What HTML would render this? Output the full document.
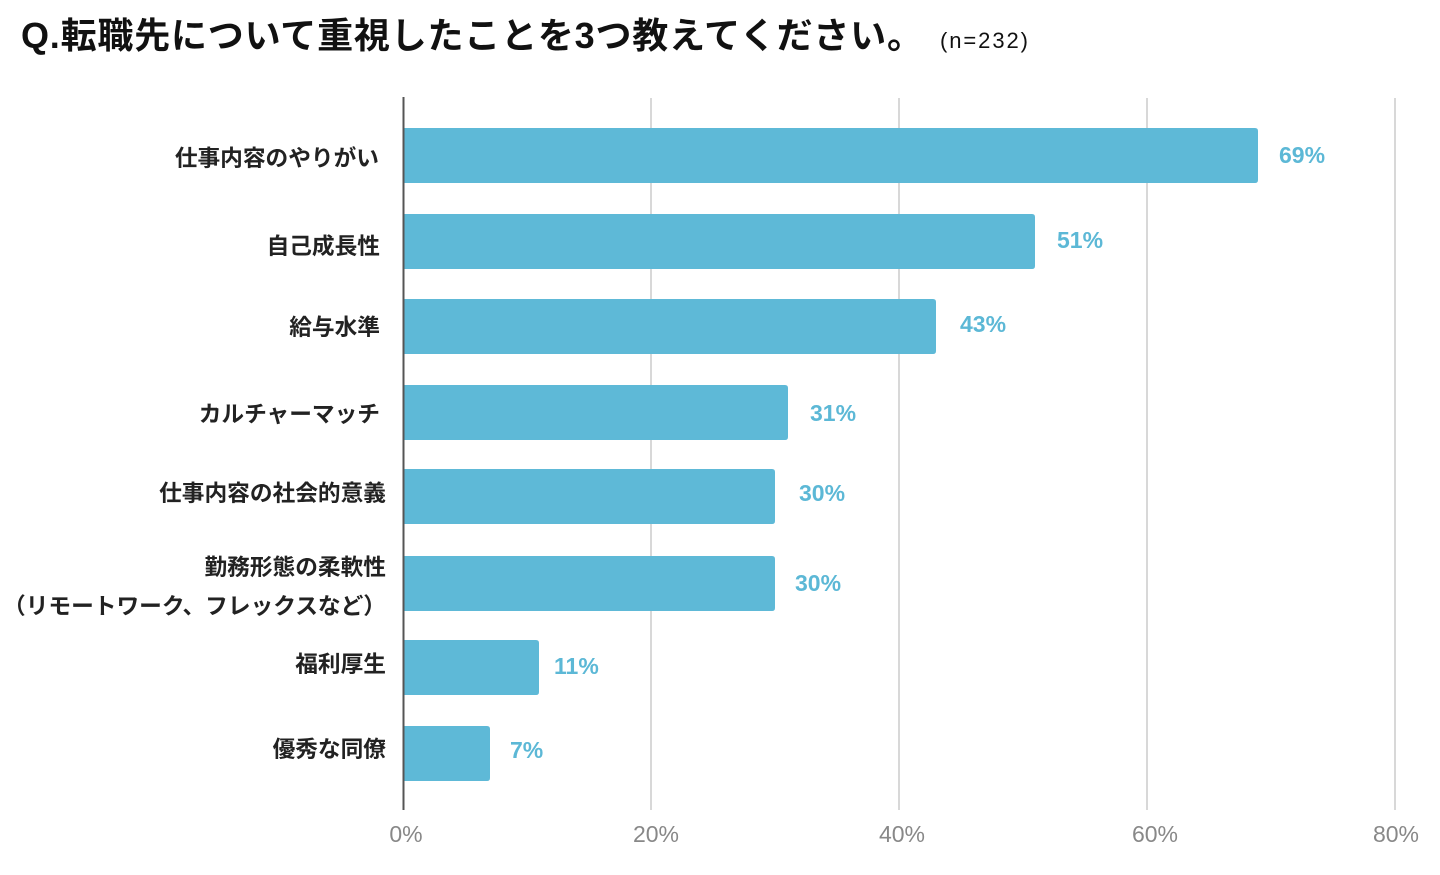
<!DOCTYPE html>
<html>
<head>
<meta charset="utf-8">
<style>
  html,body{margin:0;padding:0;background:#fff;}
  body{width:1440px;height:875px;overflow:hidden;}
  svg{display:block;}
  .t{font-family:"Liberation Sans","Noto Sans CJK JP",sans-serif;}
</style>
</head>
<body>
<svg width="1440" height="875" viewBox="0 0 1440 875" xmlns="http://www.w3.org/2000/svg">
  <rect width="1440" height="875" fill="#ffffff"/>

  <!-- Title -->
  <text class="t" x="21" y="48" font-size="36" font-weight="600" fill="#111" textLength="902" lengthAdjust="spacing">Q.転職先について重視したことを3つ教えてください。</text>
  <text class="t" x="940" y="48" font-size="22" fill="#111" textLength="88" lengthAdjust="spacing">(n=232)</text>

  <!-- Gridlines -->
  <g stroke="#d8d8d8" stroke-width="2">
    <line x1="651" y1="98" x2="651" y2="810"/>
    <line x1="899" y1="98" x2="899" y2="810"/>
    <line x1="1147" y1="98" x2="1147" y2="810"/>
    <line x1="1395" y1="98" x2="1395" y2="810"/>
  </g>

  <!-- Bars -->
  <g fill="#5eb9d7">
    <path d="M404 128 H1255 Q1258 128 1258 131 V180 Q1258 183 1255 183 H404 Z"/>
    <path d="M404 214 H1032 Q1035 214 1035 217 V266 Q1035 269 1032 269 H404 Z"/>
    <path d="M404 299 H933 Q936 299 936 302 V351 Q936 354 933 354 H404 Z"/>
    <path d="M404 385 H785 Q788 385 788 388 V437 Q788 440 785 440 H404 Z"/>
    <path d="M404 469 H772 Q775 469 775 472 V521 Q775 524 772 524 H404 Z"/>
    <path d="M404 556 H772 Q775 556 775 559 V608 Q775 611 772 611 H404 Z"/>
    <path d="M404 640 H536 Q539 640 539 643 V692 Q539 695 536 695 H404 Z"/>
    <path d="M404 726 H487 Q490 726 490 729 V778 Q490 781 487 781 H404 Z"/>
  </g>

  <!-- Axis line -->
  <line x1="403.5" y1="97" x2="403.5" y2="810" stroke="#555" stroke-width="2"/>

  <!-- Value labels -->
  <g class="t" font-size="23" font-weight="bold" fill="#5cb8d6">
    <text x="1279" y="163">69%</text>
    <text x="1057" y="248">51%</text>
    <text x="960" y="332">43%</text>
    <text x="810" y="421">31%</text>
    <text x="799" y="501">30%</text>
    <text x="795" y="591">30%</text>
    <text x="554" y="674">11%</text>
    <text x="510" y="758">7%</text>
  </g>

  <!-- Category labels -->
  <g class="t" font-size="22.7" font-weight="bold" fill="#222" text-anchor="end">
    <text x="379" y="166">仕事内容のやりがい</text>
    <text x="380" y="254">自己成長性</text>
    <text x="380" y="335">給与水準</text>
    <text x="380" y="422">カルチャーマッチ</text>
    <text x="386" y="501">仕事内容の社会的意義</text>
    <text x="386" y="575">勤務形態の柔軟性</text>
    <text x="386" y="614">（リモートワーク、フレックスなど）</text>
    <text x="386" y="672">福利厚生</text>
    <text x="386" y="757">優秀な同僚</text>
  </g>

  <!-- Tick labels -->
  <g class="t" font-size="23" fill="#888" text-anchor="middle">
    <text x="406" y="842">0%</text>
    <text x="656" y="842">20%</text>
    <text x="902" y="842">40%</text>
    <text x="1155" y="842">60%</text>
    <text x="1396" y="842">80%</text>
  </g>
</svg>
</body>
</html>
